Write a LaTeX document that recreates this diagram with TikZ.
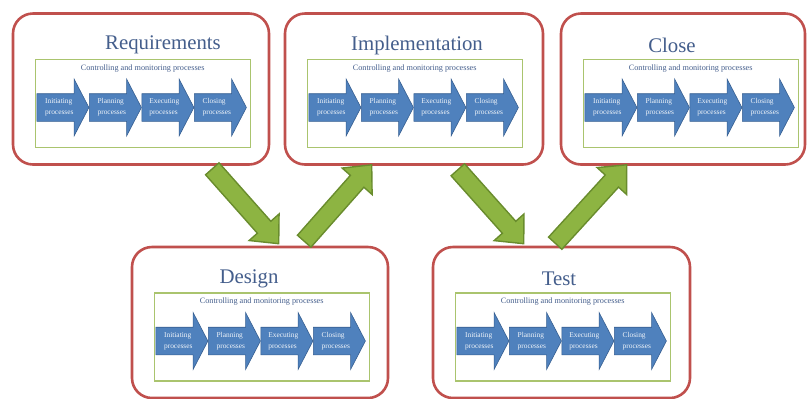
\documentclass[tikz,border=0pt]{standalone}
\usepackage{fontspec}
\setmainfont{Liberation Serif}
\usetikzlibrary{calc,shapes.arrows}
\definecolor{boxred}{RGB}{192,80,77}
\definecolor{framegreen}{RGB}{170,196,110}
\definecolor{flowgreen}{RGB}{141,180,66}
\definecolor{flowedge}{RGB}{105,140,45}
\definecolor{procblue}{RGB}{79,129,189}
\definecolor{procedge}{RGB}{55,95,145}
\definecolor{titleblue}{RGB}{68,94,140}

\begin{document}
\begin{tikzpicture}[x=0.5pt,y=-0.5pt,
    phase/.style={draw=boxred,line width=1.3pt,rounded corners=10pt,fill=white,minimum height=75.5pt},
    heading/.style={text=titleblue,font=\fontsize{10.4}{12}\selectfont,inner sep=0pt},
    frame/.style={draw=framegreen,line width=0.6pt,minimum width=107.5pt,minimum height=44pt,inner sep=0pt},
    ctrl/.style={text=titleblue,font=\fontsize{4.1}{5}\selectfont,inner sep=0pt},
    procarrow/.style={single arrow,draw=procedge,fill=procblue,line width=0.3pt,
      single arrow head extend=7.25pt,single arrow head indent=0pt,single arrow tip angle=125,
      minimum height=26pt,text=white!92!procblue,font=\fontsize{3.7}{5.5}\selectfont,align=left,
      inner sep=0.8pt,text height=9.55pt,text depth=2.35pt,anchor=tail},
    flow/.style={draw=flowedge,fill=flowgreen,line width=0.7pt,line join=miter}]
  \useasboundingbox (0,0) rectangle (808,398);
  % phases
  \foreach \nm/\cx/\cy/\bw/\tx/\ttl in {req/141/89/128pt/163/Requirements,
      impl/414/89/129pt/417/Implementation,close/683/89/122pt/672/Close,
      design/260/322.5/128pt/249/Design,test/561.5/322.5/128.5pt/559/Test}
  {
    \node[phase,minimum width=\bw] (\nm) at (\cx,\cy) {};
    \node[heading] (\nm-title) at (\tx,\cy-44) {\ttl};
    \node[frame] (\nm-frame) at ($(\nm.west)+(131,14.5)$) {};
    \node[ctrl] (\nm-ctrl) at ($(\nm-frame.north)+(0,9.5)$) {Controlling and monitoring processes};
    \foreach \i/\lbl in {0/Initiating,1/Planning,2/Executing,3/Closing}
      \node[procarrow] (\nm-p\i) at ($(\nm-frame.west)+(2+52.5*\i,4)$) {\lbl\\processes};
  }
  % ends of the green arrows
  \coordinate (rd-s) at ($(req.south east)+(-58,3)$);
  \coordinate (rd-e) at ($(design.north west)+(148,-2)$);
  \coordinate (di-s) at ($(design.north west)+(173.5,-4.5)$);
  \coordinate (di-e) at ($(impl.south west)+(88,-1)$);
  \coordinate (it-s) at ($(impl.south east)+(-86.5,4)$);
  \coordinate (it-e) at ($(test.north west)+(92,-2)$);
  \coordinate (tc-s) at ($(test.north west)+(123.5,-2.5)$);
  \coordinate (tc-e) at ($(close.south west)+(67,-1)$);
  \foreach \s/\e in {rd-s/rd-e,di-s/di-e,it-s/it-e,tc-s/tc-e}
    \draw[flow] ($(\s)!4.5pt!90:(\e)$) -- ($(\e)!11pt!(\s)!4.5pt!-90:(\s)$)
      -- ($(\e)!11pt!(\s)!10pt!-90:(\s)$) -- (\e) -- ($(\e)!11pt!(\s)!10pt!90:(\s)$)
      -- ($(\e)!11pt!(\s)!4.5pt!90:(\s)$) -- ($(\s)!4.5pt!-90:(\e)$) -- cycle;
\end{tikzpicture}
\end{document}
